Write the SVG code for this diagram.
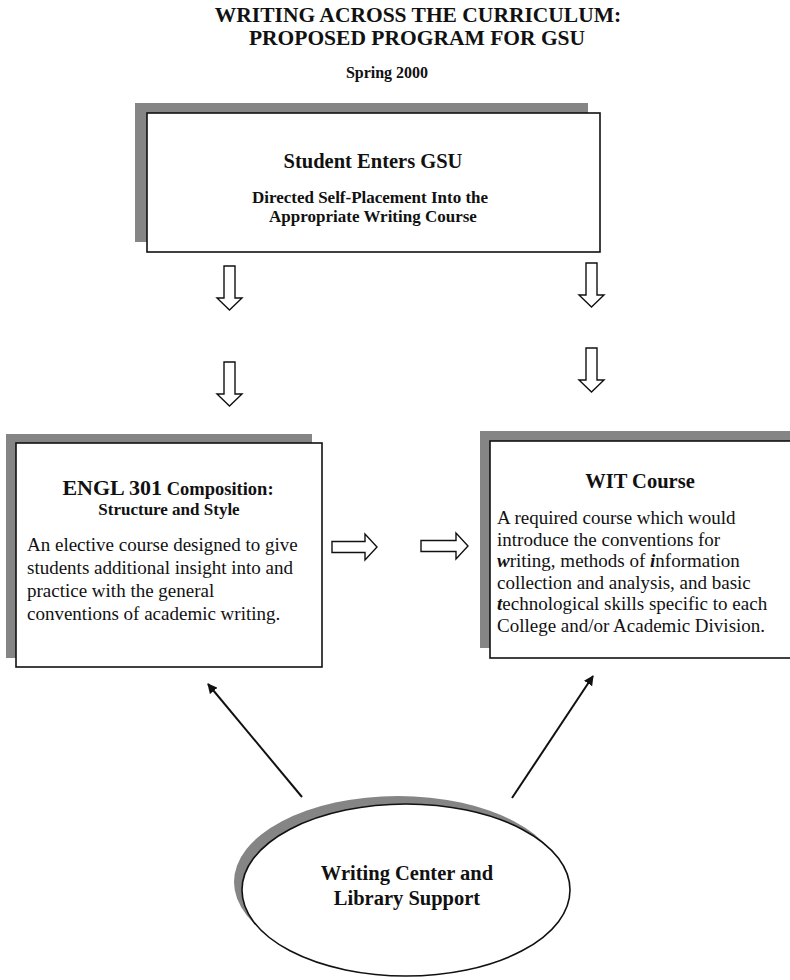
<svg xmlns="http://www.w3.org/2000/svg" width="790" height="980" viewBox="0 0 790 980">
<style>
  text { font-family: "Liberation Serif", "Times New Roman", serif; fill: #111; }
  .title { font-size: 21.5px; font-weight: bold; text-anchor: middle; }
  .sub { font-size: 16px; font-weight: bold; text-anchor: middle; }
  .head { font-size: 20.5px; font-weight: bold; text-anchor: middle; }
  .head2 { font-size: 17px; font-weight: bold; text-anchor: middle; }
  .body { font-size: 19px; }
  .bi { font-weight: bold; font-style: italic; }
  .box { fill: #fff; stroke: #111; stroke-width: 1.6; }
  .shadow { fill: #858585; stroke: none; }
  .block { fill: #fff; stroke: #111; stroke-width: 1.4; stroke-linejoin: miter; }
  .line { stroke: #111; stroke-width: 2; fill: none; }
</style>
<defs>
  <marker id="ah" viewBox="0 0 10 10" refX="9" refY="5" markerWidth="5" markerHeight="5" orient="auto" markerUnits="strokeWidth">
    <path d="M0,0 L10,5 L0,10 Z" fill="#111"/>
  </marker>
</defs>
<rect width="790" height="980" fill="#fff"/>

<g id="title">
  <text class="title" x="418" y="22">WRITING ACROSS THE CURRICULUM:</text>
  <text class="title" x="417" y="45">PROPOSED PROGRAM FOR GSU</text>
  <text class="sub" x="387" y="78">Spring 2000</text>
</g>

<g id="student-enters">
  <rect class="shadow" x="135" y="103" width="453" height="139"/>
  <rect class="box" x="147" y="113" width="453" height="139"/>
  <text class="head" x="373" y="168">Student Enters GSU</text>
  <text class="head2" x="370" y="203">Directed Self-Placement Into the</text>
  <text class="head2" x="373" y="222">Appropriate Writing Course</text>
</g>

<g id="engl301">
  <rect class="shadow" x="6" y="434" width="306" height="224"/>
  <rect class="box" x="16" y="443" width="306" height="224"/>
  <text x="168" y="495" text-anchor="middle" font-weight="bold"><tspan font-size="22">ENGL 301</tspan><tspan font-size="18.5"> Composition:</tspan></text>
  <text class="head2" x="169" y="515" font-size="18.5">Structure and Style</text>
  <text class="body" x="27" y="551">An elective course designed to give</text>
  <text class="body" x="27" y="574">students additional insight into and</text>
  <text class="body" x="27" y="597">practice with the general</text>
  <text class="body" x="27" y="620">conventions of academic writing.</text>
</g>

<g id="wit">
  <rect class="shadow" x="480" y="431" width="320" height="217"/>
  <rect class="box" x="490" y="441" width="320" height="217"/>
  <text class="head" x="640" y="488" font-size="21.5">WIT Course</text>
  <text class="body" x="497" y="524">A required course which would</text>
  <text class="body" x="497" y="545.5">introduce the conventions for</text>
  <text class="body" x="497" y="567"><tspan class="bi">w</tspan>riting, methods of <tspan class="bi">i</tspan>nformation</text>
  <text class="body" x="497" y="588.5">collection and analysis, and basic</text>
  <text class="body" x="497" y="610"><tspan class="bi">t</tspan>echnological skills specific to each</text>
  <text class="body" x="497" y="631.5">College and/or Academic Division.</text>
</g>

<g id="support">
  <ellipse class="shadow" cx="398" cy="882" rx="164" ry="86"/>
  <ellipse class="box" cx="406" cy="890" rx="164" ry="86"/>
  <text class="head" x="407" y="880" font-size="21.5">Writing Center and</text>
  <text class="head" x="407" y="905" font-size="21.5">Library Support</text>
</g>

<g id="connectors">
  <path class="block" d="M224,266 L235,266 L235,298 L242,298 L229.5,310 L217,298 L224,298 Z"/>
  <path class="block" d="M224,362 L235,362 L235,394 L242,394 L229.5,406 L217,394 L224,394 Z"/>
  <path class="block" d="M586,263 L597,263 L597,295 L604,295 L591.5,307 L579,295 L586,295 Z"/>
  <path class="block" d="M586,348 L597,348 L597,380 L604,380 L591.5,392 L579,380 L586,380 Z"/>
  <path class="block" d="M332,541.5 L365,541.5 L365,534 L377,547 L365,560 L365,552.5 L332,552.5 Z"/>
  <path class="block" d="M421,540.5 L456,540.5 L456,533 L468,546 L456,559 L456,551.5 L421,551.5 Z"/>
  <line class="line" x1="302" y1="797" x2="208" y2="684" marker-end="url(#ah)"/>
  <line class="line" x1="512" y1="798" x2="593" y2="676" marker-end="url(#ah)"/>
</g>
</svg>
